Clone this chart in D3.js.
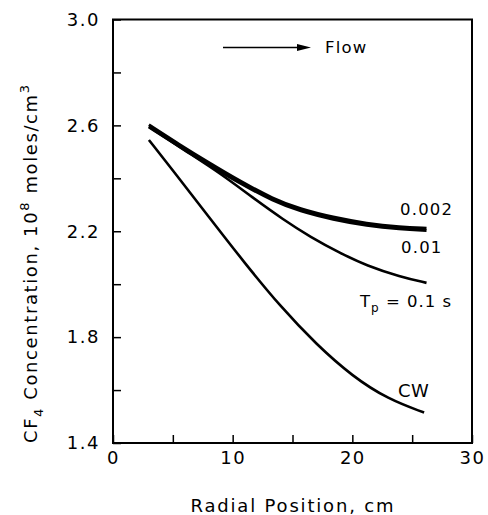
<!DOCTYPE html>
<html>
<head>
<meta charset="utf-8">
<script src="https://cdn.jsdelivr.net/npm/d3@7"></script>
<style>
  body { margin: 0; background: #fff; }
  svg { display: block; }
  text { font-family: "DejaVu Sans", "Liberation Sans", sans-serif; fill: #000; }
</style>
</head>
<body>
<div id="chart"></div>
<script>
// values: [radial position (cm), concentration (1e8 moles/cm3)]
const tp0002 = [[3, 2.602], [5.5, 2.529], [7.9, 2.462], [10.7, 2.387], [13.4, 2.322], [15.6, 2.284], [18.4, 2.252], [21.2, 2.229], [24, 2.216], [26.2, 2.211]];
const tp001 = [[3, 2.594], [5.5, 2.521], [7.9, 2.454], [10.7, 2.379], [13.4, 2.314], [15.6, 2.276], [18.4, 2.244], [21.2, 2.221], [24, 2.208], [26.2, 2.203]];
const tp01 = [[3, 2.595], [6, 2.505], [9, 2.418], [11.7, 2.326], [14.2, 2.245], [16.5, 2.178], [19, 2.117], [21.2, 2.07], [24, 2.028], [26.2, 2.005]];
const cw = [[3, 2.545], [5, 2.43], [8, 2.255], [11, 2.08], [14, 1.915], [17, 1.772], [20, 1.652], [23, 1.565], [26, 1.515]];

const xTicks = [0, 5, 10, 15, 20, 25, 30];
const xLabels = [0, 10, 20, 30];
const yTicks = [1.4, 1.6, 1.8, 2.0, 2.2, 2.4, 2.6, 2.8, 3.0];
const yLabels = [1.4, 1.8, 2.2, 2.6, 3.0];

const width = 488, height = 515;
const margin = { top: 19.5, right: 16, bottom: 72, left: 113 };

const svg = d3.select('#chart').append('svg')
    .attr('width', width)
    .attr('height', height);

let x = d3.scaleLinear().domain([0, 30]).range([margin.left, width - margin.right]);
let y = d3.scaleLinear().domain([1.4, 3.0]).range([height - margin.bottom, margin.top]);

// frame
svg.append('rect')
    .attr('x', x(0)).attr('y', y(3.0))
    .attr('width', x(30) - x(0)).attr('height', y(1.4) - y(3.0))
    .attr('fill', 'none').attr('stroke', '#000').attr('stroke-width', 2);

// axes with inward ticks
let xAxis = svg.append('g')
    .attr('transform', 'translate(0,' + y(1.4) + ')')
    .call(d3.axisBottom(x).tickValues(xTicks).tickSizeInner(-8).tickSizeOuter(0).tickPadding(8)
        .tickFormat(d => xLabels.includes(d) ? d : ''));
let yAxis = svg.append('g')
    .attr('transform', 'translate(' + x(0) + ',0)')
    .call(d3.axisLeft(y).tickValues(yTicks).tickSizeInner(-8).tickSizeOuter(0).tickPadding(13)
        .tickFormat(d => yLabels.some(v => Math.abs(v - d) < 1e-6) ? d3.format('.1f')(d) : ''));

for (let ax of [xAxis, yAxis]) {
    ax.select('.domain').remove();
    ax.selectAll('.tick line').attr('stroke-width', 1.5);
    ax.selectAll('.tick text')
        .style('font-family', '"DejaVu Sans", sans-serif')
        .style('font-size', '18px')
        .style('letter-spacing', '1.5px');
}

// curves
let line = d3.line()
    .x(d => x(d[0]))
    .y(d => y(d[1]))
    .curve(d3.curveBasis);

const series = [
    { values: cw, width: 2.6 },
    { values: tp01, width: 2.6 },
    { values: tp001, width: 3 },
    { values: tp0002, width: 3 }
];
svg.append('g').selectAll('path')
    .data(series)
    .join('path')
    .attr('fill', 'none')
    .attr('stroke', '#000')
    .attr('stroke-width', d => d.width)
    .attr('d', d => line(d.values));

// curve labels
svg.append('text').attr('x', 400).attr('y', 215)
    .style('font-size', '16.5px').style('letter-spacing', '1.2px').text('0.002');
svg.append('text').attr('x', 401).attr('y', 253)
    .style('font-size', '16.5px').style('letter-spacing', '1.2px').text('0.01');
let tp = svg.append('text').attr('x', 360).attr('y', 307)
    .style('font-size', '16.5px').style('letter-spacing', '1px');
tp.append('tspan').text('T');
tp.append('tspan').attr('dy', 5).style('font-size', '12px').text('p');
tp.append('tspan').attr('dy', -5).text(' = 0.1 s');
svg.append('text').attr('x', 398).attr('y', 397)
    .style('font-size', '18px').style('letter-spacing', '0.5px').text('CW');

// flow arrow
svg.append('line')
    .attr('x1', 223).attr('x2', 300).attr('y1', 47.5).attr('y2', 47.5)
    .attr('stroke', '#000').attr('stroke-width', 1.6);
svg.append('path')
    .attr('d', 'M297,44 L311,47.5 L297,51 Z')
    .attr('fill', '#000');
svg.append('text').attr('x', 325).attr('y', 53)
    .style('font-size', '16.5px').style('letter-spacing', '1.2px')
    .text('Flow');

// axis titles
svg.append('text')
    .attr('x', 292).attr('y', 512)
    .attr('text-anchor', 'middle')
    .attr('textLength', 203).attr('lengthAdjust', 'spacing')
    .style('font-size', '18px')
    .text('Radial Position, cm');

let yTitle = svg.append('text')
    .attr('transform', 'translate(37,' + 443 + ') rotate(-90)')
    .style('font-size', '18px')
    .style('letter-spacing', '1.6px');
yTitle.append('tspan').text('CF');
yTitle.append('tspan').attr('dy', 6).style('font-size', '13px').text('4');
yTitle.append('tspan').attr('dy', -6).text(' Concentration, 10');
yTitle.append('tspan').attr('dy', -8).style('font-size', '13px').text('8');
yTitle.append('tspan').attr('dy', 8).text(' moles/cm');
yTitle.append('tspan').attr('dy', -8).style('font-size', '13px').text('3');
</script>
</body>
</html>
